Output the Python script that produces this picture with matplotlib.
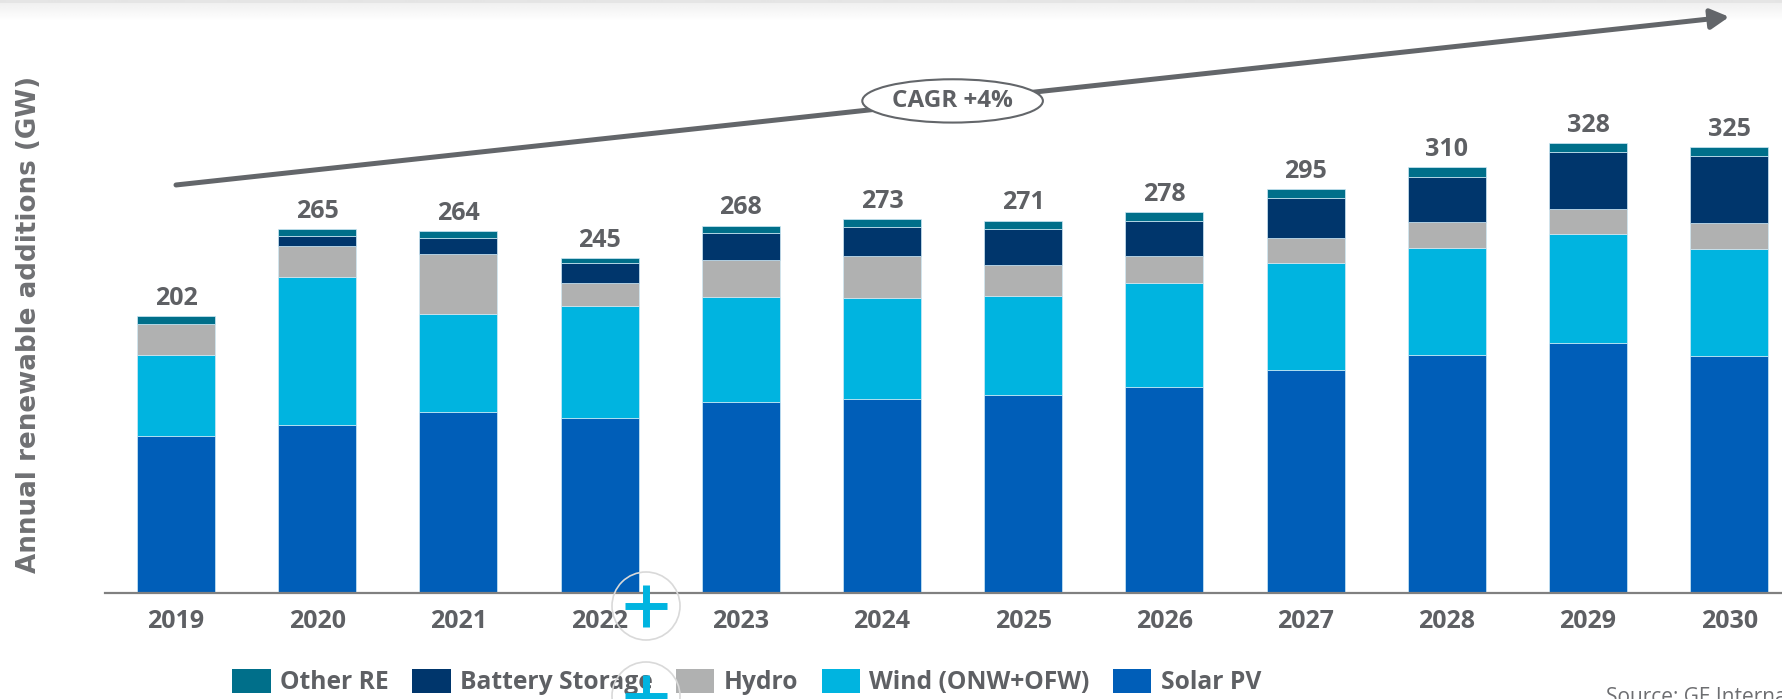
import numpy as np
import matplotlib
matplotlib.use("Agg")
import matplotlib.pyplot as plt
from matplotlib.patches import Ellipse, Rectangle
from matplotlib.lines import Line2D

# ---------------- data ----------------
years = ['2019', '2020', '2021', '2022', '2023', '2024', '2025', '2026', '2027', '2028', '2029', '2030']
totals = [202, 265, 264, 245, 268, 273, 271, 278, 295, 310, 328, 325]
solar_pv = [114.8, 122.4, 132.3, 127.5, 139.2, 141.8, 144.3, 150.5, 162.7, 173.6, 182.6, 173.1]
wind = [59.0, 108.3, 71.4, 81.8, 76.5, 73.6, 72.6, 75.8, 78.2, 78.2, 79.4, 78.0]
hydro = [22.4, 22.4, 43.3, 16.5, 27.2, 30.6, 22.4, 19.7, 17.8, 18.5, 18.0, 18.5]
battery = [0.0, 7.3, 12.1, 15.0, 19.5, 21.1, 26.0, 25.5, 29.6, 33.2, 41.7, 49.0]
other_re = [5.8, 4.9, 4.9, 3.6, 5.5, 5.8, 6.3, 6.3, 6.1, 6.8, 6.1, 6.6]
series_names = ['Solar PV', 'Wind (ONW+OFW)', 'Hydro', 'Battery Storage', 'Other RE']
cagr_label = 'CAGR +4%'
cagr_start = 297.5
cagr_end = 420.0
ylabel = 'Annual renewable additions (GW)'
source = 'Source: GE International'

colors = {'Solar PV': '#005EB8', 'Wind (ONW+OFW)': '#00B4E0', 'Hydro': '#B0B1B1',
          'Battery Storage': '#00366C', 'Other RE': '#006F8A'}
TXT = '#5E6064'
FONT = ['Open Sans', 'DejaVu Sans']

W, H = 1783, 699
fig = plt.figure(figsize=(W / 100, H / 100), dpi=100)
fig.patch.set_facecolor('white')

# top grey band (page decoration)
band = fig.add_axes([0, 1 - 22 / H, 1, 22 / H])
rows = np.concatenate([np.full(3, 0.895), np.linspace(0.94, 1.0, 19)])
band.imshow(rows[:, None] * np.ones((1, 10)), cmap='gray', vmin=0, vmax=1, aspect='auto',
            interpolation='bilinear')
band.axis('off')

base_px = 593.3
px_per_gw = 1.3725
left_px = 105
spacing_px = 141.2
x0_px = 176.0
ax = fig.add_axes([left_px / W, 1 - base_px / H, 1 - left_px / W, base_px / H])
ax.set_facecolor('none')
ax.set_ylim(0, base_px / px_per_gw)
xl = -(x0_px - left_px) / spacing_px
ax.set_xlim(xl, xl + (W - left_px) / spacing_px)

x = np.arange(len(years))
stack = [solar_pv, wind, hydro, battery, other_re]
bottom = np.zeros(len(years))
for name, vals in zip(series_names, stack):
    vals = np.array(vals)
    ax.bar(x, vals, bottom=bottom, width=0.553, color=colors[name],
           edgecolor='#cfe9f5', linewidth=0.5, zorder=2)
    bottom += vals

for xi, top, t in zip(x, bottom, totals):
    ax.annotate(str(t), (xi, top), xytext=(0, 8), textcoords='offset points',
                ha='center', va='baseline', fontsize=18, fontweight='bold',
                color=TXT, family=FONT)

for s in ['top', 'right', 'left']:
    ax.spines[s].set_visible(False)
ax.spines['bottom'].set_color('#808080')
ax.spines['bottom'].set_linewidth(1.6)
ax.set_yticks([])
ax.set_xticks(x)
ax.set_xticklabels(years)
ax.tick_params(axis='x', length=0, pad=11.5)
for lab in ax.get_xticklabels():
    lab.set_fontsize(18)
    lab.set_fontweight('bold')
    lab.set_color(TXT)
    lab.set_family(FONT)

# CAGR arrow
ax.annotate('', xy=(x[-1], cagr_end), xytext=(x[0], cagr_start),
            arrowprops=dict(arrowstyle='-|>,head_length=0.55,head_width=0.3',
                            mutation_scale=20, lw=3.6, color='#63666A',
                            shrinkA=0, shrinkB=0), zorder=3)
mx = (x[0] + x[-1]) / 2
my = (cagr_start + cagr_end) / 2
ax.add_patch(Ellipse((mx, my), width=180.6 / spacing_px, height=43.3 / px_per_gw,
                     facecolor='white', edgecolor='#63666A', lw=1.5, zorder=4))
ax.text(mx, my, cagr_label, ha='center', va='center', fontsize=17.5, fontweight='bold',
        color=TXT, family=FONT, zorder=5)

# y label
fig.text(29.5 / W, 1 - 324 / H, ylabel, rotation=90, ha='center', va='center',
         fontsize=18.8, fontweight='bold', color='#6F7073', family='DejaVu Sans')

# legend
leg_order = ['Other RE', 'Battery Storage', 'Hydro', 'Wind (ONW+OFW)', 'Solar PV']
handles = [Rectangle((0, 0), 1, 1, facecolor=colors[n], edgecolor='none') for n in leg_order]
leg = fig.legend(handles, leg_order, loc='center left',
                 bbox_to_anchor=(232.5 / W, 1 - 682 / H), ncol=5, frameon=False,
                 borderpad=0, borderaxespad=0, handlelength=1.56, handleheight=1.12,
                 handletextpad=0.38, columnspacing=0.95,
                 prop=dict(family=FONT, weight='bold', size=17.7))
for t in leg.get_texts():
    t.set_color(TXT)

# source
fig.text(1606 / W, 1 - 686.7 / H, source, ha='left', va='top', fontsize=15,
         color='#6D6E71', family=FONT)

# zoom widget overlay
for cy in (606, 696):
    fig.add_artist(Ellipse((646 / W, 1 - cy / H), 68 / W, 68 / H, transform=fig.transFigure,
                           facecolor='none', edgecolor='#D9D9D9', lw=1.2, zorder=10))
    fig.add_artist(Line2D([625 / W, 667 / W], [1 - cy / H, 1 - cy / H],
                          transform=fig.transFigure, color='#00B4E0', lw=5, zorder=11,
                          solid_capstyle='butt'))
    fig.add_artist(Line2D([646 / W, 646 / W], [1 - (cy - 21) / H, 1 - (cy + 21) / H],
                          transform=fig.transFigure, color='#00B4E0', lw=5, zorder=11,
                          solid_capstyle='butt'))

fig.savefig('out.png', dpi=100, facecolor='white')
